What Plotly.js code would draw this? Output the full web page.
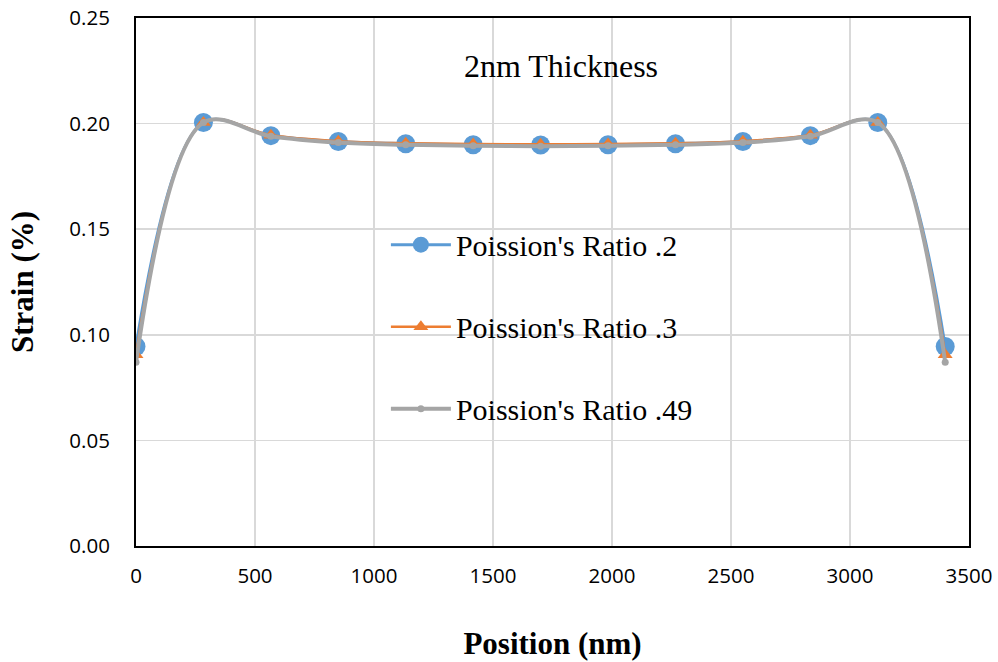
<!DOCTYPE html>
<html>
<head>
<meta charset="utf-8">
<script src="https://cdn.plot.ly/plotly-3.0.1.min.js"></script>
<style>html,body{margin:0;padding:0;background:#fff;}#chart{width:998px;height:662px;}</style>
</head>
<body>
<div id="chart"></div>
<script>
const positions = [0, 283.3, 566.7, 850, 1133.3, 1416.7, 1700, 1983.3, 2266.7, 2550, 2833.3, 3116.7, 3400];
const strainNu02 = [0.0945, 0.2005, 0.1943, 0.1915, 0.1905, 0.1900, 0.1899, 0.1900, 0.1905, 0.1915, 0.1943, 0.2005, 0.0945];
const strainNu03 = [0.0905, 0.2005, 0.1945, 0.1917, 0.1907, 0.1903, 0.1902, 0.1903, 0.1907, 0.1917, 0.1945, 0.2005, 0.0905];
const strainNu049 = [0.0870, 0.2005, 0.1940, 0.1910, 0.1900, 0.1895, 0.1893, 0.1895, 0.1900, 0.1910, 0.1940, 0.2005, 0.0870];
const seriesNames = ["Poission's Ratio .2", "Poission's Ratio .3", "Poission's Ratio .49"];
const xTicks = [0, 500, 1000, 1500, 2000, 2500, 3000, 3500];
const yTicks = [0, 0.05, 0.10, 0.15, 0.20, 0.25];
const chartTitle = "2nm Thickness";

const traces = [
  {x: positions, y: strainNu02, name: seriesNames[0], legendgroup: 'a', type: 'scatter', mode: 'lines+markers',
   line: {color: '#5b9bd5', width: 3, shape: 'spline', smoothing: 1}, marker: {symbol: 'circle', size: 19, color: '#5b9bd5'}},
  {x: positions, y: strainNu03, name: seriesNames[1], legendgroup: 'b', type: 'scatter', mode: 'lines+markers',
   line: {color: '#ed7d31', width: 2.5, shape: 'spline', smoothing: 1}, marker: {symbol: 'triangle-up', size: 13, color: '#ed7d31'}},
  {x: positions, y: strainNu049, name: seriesNames[2], legendgroup: 'c', type: 'scatter', mode: 'lines+markers',
   line: {color: '#a5a5a5', width: 4, shape: 'spline', smoothing: 1}, marker: {symbol: 'circle', size: 7, color: '#a5a5a5'}}
];

const layout = {
  width: 998, height: 662,
  margin: {l: 136, r: 29, t: 18, b: 116, pad: 0},
  paper_bgcolor: '#fff', plot_bgcolor: '#fff',
  showlegend: true,
  legend: {x: 0.3, y: 0.62, xanchor: 'left', yanchor: 'top', bgcolor: 'rgba(0,0,0,0)',
           font: {family: 'Liberation Serif, Times New Roman, serif', size: 30, color: '#000'},
           tracegroupgap: 40, itemwidth: 60},
  xaxis: {range: [0, 3500], tickvals: xTicks, ticktext: xTicks.map(String),
          showgrid: true, gridcolor: '#d9d9d9', gridwidth: 1.5, zeroline: false,
          showline: true, linecolor: '#000', linewidth: 2, mirror: true,
          ticks: 'outside', ticklen: 10, tickcolor: 'rgba(0,0,0,0)',
          tickfont: {family: 'Open Sans, sans-serif', size: 20.5, color: '#000'},
          title: {text: 'Position (nm)', standoff: 45,
                  font: {family: 'Liberation Serif, Times New Roman, serif', size: 31, color: '#000', weight: 'bold'}}},
  yaxis: {range: [0, 0.25], tickvals: yTicks, ticktext: yTicks.map(v => v.toFixed(2)),
          showgrid: true, gridcolor: '#d9d9d9', gridwidth: 1.5, zeroline: false,
          showline: true, linecolor: '#000', linewidth: 2, mirror: true,
          ticks: 'outside', ticklen: 20, tickcolor: 'rgba(0,0,0,0)',
          tickfont: {family: 'Open Sans, sans-serif', size: 20.5, color: '#000'},
          title: {text: 'Strain (%)', standoff: 26,
                  font: {family: 'Liberation Serif, Times New Roman, serif', size: 31, color: '#000', weight: 'bold'}}},
  annotations: [{text: chartTitle, xref: 'paper', yref: 'paper', x: 0.51, y: 0.91, xanchor: 'center', yanchor: 'middle',
                 showarrow: false, font: {family: 'Liberation Serif, Times New Roman, serif', size: 32, color: '#000'}}]
};

Plotly.newPlot('chart', traces, layout, {displayModeBar: false, staticPlot: true});
</script>
</body>
</html>
